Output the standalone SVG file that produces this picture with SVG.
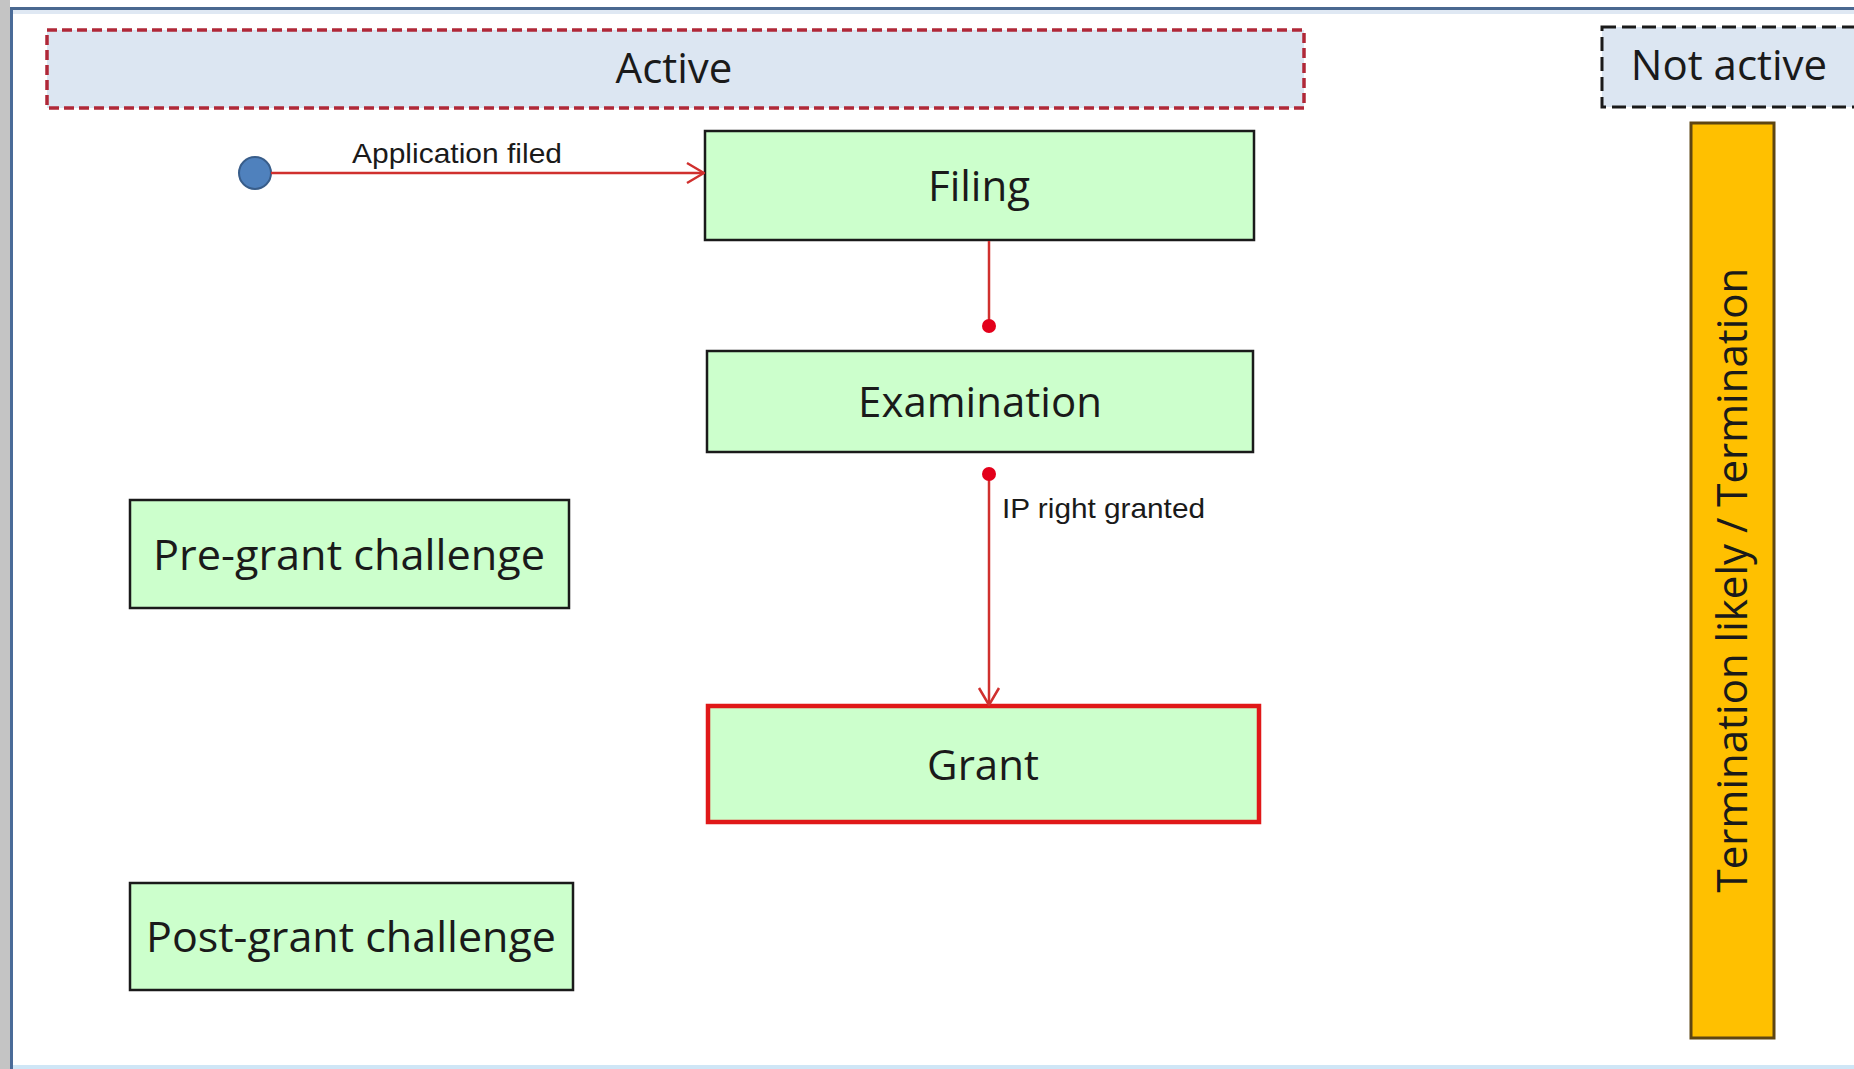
<svg xmlns="http://www.w3.org/2000/svg" width="1854" height="1069" viewBox="0 0 1854 1069">
  <style>
    .state rect { fill: #ccffcc; stroke: #1a1a1a; stroke-width: 2.5; }
    .state text, .lane text { font-family: "Open Sans", "Liberation Sans", sans-serif; font-size: 42px; fill: #1a1a1a; text-anchor: middle; }
    .lbl { font-family: "Liberation Sans", Arial, sans-serif; font-size: 28px; fill: #1a1a1a; }
    .conn { stroke: #d0302e; stroke-width: 2.5; fill: none; }
  </style>
  <defs>
    <marker id="openArrow" viewBox="0 0 20 24" refX="19" refY="12" markerWidth="20" markerHeight="24" markerUnits="userSpaceOnUse" orient="auto">
      <path d="M2,2 L19,12 L2,22" fill="none" stroke="#d0302e" stroke-width="2.5"/>
    </marker>
    <marker id="dotEnd" viewBox="0 0 16 16" refX="8" refY="8" markerWidth="16" markerHeight="16" markerUnits="userSpaceOnUse" orient="auto">
      <circle cx="8" cy="8" r="7" fill="#e3001b"/>
    </marker>
  </defs>

  <!-- frame -->
  <rect x="0" y="0" width="1854" height="1069" fill="#ffffff"/>
  <rect x="0" y="0" width="10" height="1069" fill="#c4c4c4"/>
  <rect x="10" y="8" width="3" height="1061" fill="#4a6b98"/>
  <rect x="10" y="7" width="1844" height="3" fill="#4a6890"/>
  <rect x="13" y="10" width="1841" height="4" fill="#dfe8f3"/>
  <rect x="13" y="1065" width="1841" height="4" fill="#cfe6f6"/>

  <!-- lanes -->
  <g id="lane-active" class="lane">
    <rect x="47" y="30" width="1257" height="78" fill="#dce6f2" stroke="#b02838" stroke-width="3.5" stroke-dasharray="10 5"/>
    <text x="674" y="83">Active</text>
  </g>
  <g id="lane-not-active" class="lane">
    <rect x="1602" y="27" width="1262" height="80" fill="#dce6f2" stroke="#1a1a1a" stroke-width="3" stroke-dasharray="14 6"/>
    <text x="1729" y="80">Not active</text>
  </g>

  <!-- initial pseudo-state -->
  <g id="start">
    <circle cx="255" cy="173" r="16" fill="#4f81bd" stroke="#385d8a" stroke-width="2"/>
  </g>

  <!-- states -->
  <g id="filing" class="state">
    <rect x="705" y="131" width="549" height="109"/>
    <text x="979" y="201">Filing</text>
  </g>
  <g id="examination" class="state">
    <rect x="707" y="351" width="546" height="101"/>
    <text x="980" y="417">Examination</text>
  </g>
  <g id="grant" class="state">
    <rect x="708" y="706" width="551" height="116" style="stroke:#e01818;stroke-width:4.5"/>
    <text x="983" y="780">Grant</text>
  </g>
  <g id="pre-grant" class="state">
    <rect x="130" y="500" width="439" height="108"/>
    <text x="349" y="570" textLength="392" lengthAdjust="spacingAndGlyphs">Pre-grant challenge</text>
  </g>
  <g id="post-grant" class="state">
    <rect x="130" y="883" width="443" height="107"/>
    <text x="351" y="952" textLength="410" lengthAdjust="spacingAndGlyphs">Post-grant challenge</text>
  </g>

  <g id="termination">
    <rect x="1691" y="123" width="83" height="915" fill="#ffc000" stroke="#5e4613" stroke-width="3"/>
    <text transform="translate(1747,580) rotate(-90)" x="0" y="0" style="font-family:'Open Sans','Liberation Sans',sans-serif;font-size:42px;fill:#1a1a1a;text-anchor:middle">Termination likely / Termination</text>
  </g>

  <!-- connectors -->
  <g id="connectors">
    <line class="conn" x1="271" y1="173" x2="704" y2="173" marker-end="url(#openArrow)"/>
    <text class="lbl" x="352" y="163" textLength="210" lengthAdjust="spacingAndGlyphs">Application filed</text>
    <line class="conn" x1="989" y1="241" x2="989" y2="326" marker-end="url(#dotEnd)"/>
    <line class="conn" x1="989" y1="474" x2="989" y2="705" marker-start="url(#dotEnd)" marker-end="url(#openArrow)"/>
    <text class="lbl" x="1002" y="518" textLength="203" lengthAdjust="spacingAndGlyphs">IP right granted</text>
  </g>
</svg>
